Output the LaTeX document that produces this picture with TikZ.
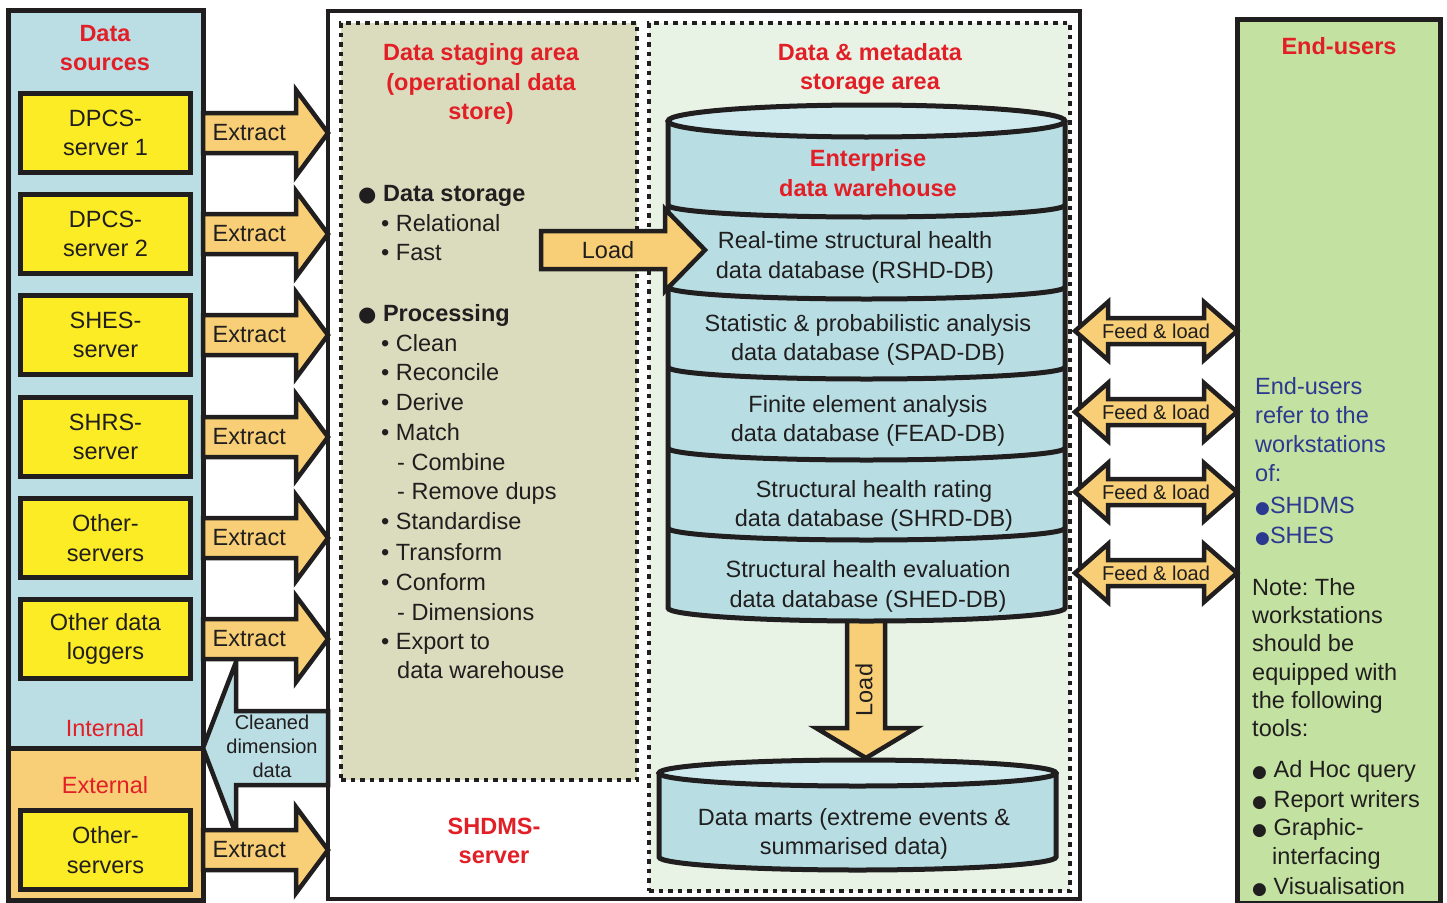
\documentclass[tikz,border=0pt]{standalone}
\usepackage{fontspec}
\setmainfont{Liberation Sans}
\newfontfamily\symfont{DejaVu Sans}
\usetikzlibrary{calc}
\frenchspacing

\definecolor{srcblue}{RGB}{186,222,228}
\definecolor{boxyellow}{RGB}{252,236,38}
\definecolor{arroworange}{RGB}{248,207,118}
\definecolor{stagegrey}{RGB}{219,220,190}
\definecolor{metagreen}{RGB}{233,243,229}
\definecolor{usergreen}{RGB}{195,225,160}
\definecolor{headred}{RGB}{226,30,38}
\definecolor{noteblue}{RGB}{43,57,144}
\definecolor{cylblue}{RGB}{184,222,228}
\definecolor{cyltop}{RGB}{206,234,239}
\definecolor{inkblack}{RGB}{32,30,30}

\newcommand{\mainsize}{\fontsize{23.5}{29.5}\selectfont}
\newcommand{\bigdot}{{\symfont\fontsize{21}{21}\selectfont ●}}
\newcommand{\meddot}{{\symfont\fontsize{17}{17}\selectfont ●}}

\newcommand{\fatarrow}[6][]{%
  \coordinate (ah) at ($(#3)!#6!(#2)$);
  \draw[blockarrow,#1] ($(#2)!#4!90:(#3)$) -- ($(ah)!#4!-90:(#2)$) -- ($(ah)!#5!-90:(#2)$) -- (#3)
    -- ($(ah)!#5!90:(#2)$) -- ($(ah)!#4!90:(#2)$) -- ($(#2)!#4!-90:(#3)$) -- cycle;}
\newcommand{\fatdouble}[6][]{%
  \coordinate (ha) at ($(#2)!#6!(#3)$);
  \coordinate (hb) at ($(#3)!#6!(#2)$);
  \draw[blockarrow,#1] (#2) -- ($(ha)!#5!90:(#3)$) -- ($(ha)!#4!90:(#3)$) -- ($(hb)!#4!-90:(#2)$)
    -- ($(hb)!#5!-90:(#2)$) -- (#3) -- ($(hb)!#5!90:(#2)$) -- ($(hb)!#4!90:(#2)$)
    -- ($(ha)!#4!-90:(#3)$) -- ($(ha)!#5!-90:(#3)$) -- cycle;}

\tikzset{
  panel/.style={draw=inkblack, line width=5pt, outer sep=0pt, inner sep=0pt, anchor=north west},
  dotbox/.style={draw=inkblack, line width=4.5pt, dash pattern=on 4.5pt off 5pt, outer sep=0pt, inner sep=0pt, anchor=north west},
  srcbox/.style={draw=inkblack, line width=5pt, fill=boxyellow, minimum width=170pt, minimum height=79pt, align=center, text=inkblack, font=\mainsize},
  heading/.style={text=headred, font=\bfseries\mainsize, align=center},
  subhead/.style={text=headred, font=\mainsize},
  lbl/.style={text=inkblack, font=\mainsize, inner sep=0pt},
  dbtext/.style={text=inkblack, font=\mainsize, align=center},
  item/.style={text=inkblack, font=\mainsize, anchor=base west, inner sep=0pt, yshift=-8.5pt},
  blockarrow/.style={draw=inkblack, line width=4.5pt, fill=arroworange, line join=miter},
  dbline/.style={draw=inkblack, line width=5pt},
  feedlbl/.style={text=inkblack, font=\fontsize{20}{24}\selectfont, inner sep=0pt},
  smalllbl/.style={text=inkblack, font=\fontsize{20}{24}\selectfont, align=center, inner sep=0pt}
}

\begin{document}
\begin{tikzpicture}[x=1pt,y=-1pt]
\useasboundingbox (0,0) rectangle (1447,902);

\node[panel, fill=srcblue, minimum width=195pt, minimum height=738pt] (internal) at (8,10) {};
\node[panel, fill=arroworange, minimum width=195pt, minimum height=152pt] (external) at (8,748) {};
\node[panel, fill=white, line width=4pt, minimum width=752pt, minimum height=888pt] (shdms) at (328,11) {};
\node[dotbox, fill=stagegrey, minimum width=296pt, minimum height=757pt] (staging) at (341,23) {};
\node[dotbox, fill=metagreen, minimum width=421pt, minimum height=868pt] (meta) at (649,23) {};
\node[panel, fill=usergreen, minimum width=203pt, minimum height=884pt] (users) at (1237,19) {};

\node[heading] (srctitle) at (105,48) {Data\\sources};
\node[subhead] (intlabel) at (105,728) {Internal};
\node[subhead] (extlabel) at (105,785) {External};
\node[heading] (stagetitle) at (481,84) {Data staging area\\(operational data\\store)};
\node[heading] (servertitle) at (494,841) {SHDMS-\\server};
\node[heading] (metatitle) at (870,69) {Data \& metadata\\storage area};
\node[heading] (usertitle) at (1339,46) {End-users};

\foreach \name/\y/\txt in {s1/133/{DPCS-\\server 1}, s2/234/{DPCS-\\server 2}, s3/335/{SHES-\\server},
    s4/437/{SHRS-\\server}, s5/538/{Other-\\servers}, s6/639/{Other data\\loggers}, s7/850/{Other-\\servers}}
{
    \node[srcbox] (\name) at (105.5,\y) {\txt};
}

\foreach \x/\y/\t [count=\i] in {358/193/{\bigdot\ \textbf{Data storage}}, 381/223/{\textbullet\ Relational},
    381/252/{\textbullet\ Fast}, 358/313/{\bigdot\ \textbf{Processing}}, 381/343/{\textbullet\ Clean},
    381/372/{\textbullet\ Reconcile}, 381/402/{\textbullet\ Derive}, 381/432/{\textbullet\ Match},
    397/462/{- Combine}, 397/491/{- Remove dups}, 381/521/{\textbullet\ Standardise},
    381/552/{\textbullet\ Transform}, 381/582/{\textbullet\ Conform}, 397/612/{- Dimensions},
    381/641/{\textbullet\ Export to}, 397/670/{data warehouse}}
{
    \node[item] (st\i) at (\x,\y) {\t};
}

\coordinate (whbottom) at (866,600);
\coordinate (marttop) at (866,758);
\fatarrow{whbottom}{marttop}{19pt}{50pt}{30pt}
\node[lbl, rotate=90] (downlabel) at (864,690) {Load};

\fill[cylblue] (668,121) -- (668,608) arc[start angle=180, end angle=360, x radius=198.5pt, y radius=13pt] -- (1065,121) -- cycle;
\draw[dbline] (668,121) -- (668,608) arc[start angle=180, end angle=360, x radius=198.5pt, y radius=13pt] -- (1065,121);
\foreach \y in {205,287,367,448,528}
{
    \draw[dbline] (668,\y) arc[start angle=180, end angle=360, x radius=198.5pt, y radius=12pt];
}
\draw[dbline, fill=cyltop] (866.5,121) ellipse [x radius=198.5pt, y radius=16pt];

\node[heading] (ewtitle) at (868,173) {Enterprise\\data warehouse};
\node[dbtext] (rshd) at (855,257.5) {Real-time structural health\\data database (RSHD-DB)};
\node[dbtext] (spad) at (868,340) {Statistic \& probabilistic analysis\\data database (SPAD-DB)};
\node[dbtext] (fead) at (868,421) {Finite element analysis\\data database (FEAD-DB)};
\node[dbtext] (shrd) at (874,506) {Structural health rating\\data database (SHRD-DB)};
\node[dbtext] (shed) at (868,586.5) {Structural health evaluation\\data database (SHED-DB)};

\fill[cylblue] (659,773) -- (659,857) arc[start angle=180, end angle=360, x radius=198.5pt, y radius=13pt] -- (1056,773) -- cycle;
\draw[dbline] (659,773) -- (659,857) arc[start angle=180, end angle=360, x radius=198.5pt, y radius=13pt] -- (1056,773);
\draw[dbline, fill=cyltop] (857.5,773) ellipse [x radius=198.5pt, y radius=13pt];
\node[dbtext] (marts) at (854,834) {Data marts (extreme events \&\\summarised data)};

\coordinate (ldstart) at (541,250);
\coordinate (ldtip) at (705,250);
\fatarrow{ldstart}{ldtip}{19pt}{41pt}{40pt}
\node[lbl] (ldlabel) at (608,250) {Load};

\coordinate (cdstart) at (internal.south east -| shdms.west);
\fatarrow[fill=srcblue]{cdstart}{internal.south east}{37pt}{86pt}{33pt}
\node[smalllbl] (cdlabel) at (272,746) {Cleaned\\dimension\\data};

\foreach \s in {s1,s2,s3,s4,s5,s6,s7}
{
    \coordinate (\s out) at (\s.east -| internal.east);
    \coordinate (\s in) at (\s.east -| shdms.west);
    \fatarrow{\s out}{\s in}{20pt}{43pt}{32pt}
    \node[lbl] (\s x) at ($(\s out)!0.37!(\s in)$) {Extract};
}

\foreach \y [count=\i] in {331,412,492,573}
{
    \coordinate (fl\i) at (1075,\y);
    \coordinate (fr\i) at (users.west |- fl\i);
    \fatdouble{fl\i}{fr\i}{13pt}{29pt}{33pt}
    \node[feedlbl] (fd\i) at ($(fl\i)!0.5!(fr\i)$) {Feed \& load};
}

\foreach \y/\t [count=\i] in {386/End-users, 415/refer to the, 444/workstations, 473/of:,
    505/{\meddot SHDMS}, 535/{\meddot SHES}}
{
    \node[item, text=noteblue] (eu\i) at (1255,\y) {\t};
}
\foreach \x/\y/\t [count=\i] in {1252/587/{Note: The}, 1252/615/workstations, 1252/643/{should be},
    1252/672/{equipped with}, 1252/700/{the following}, 1252/728/{tools:},
    1252/769/{\meddot\ Ad Hoc query}, 1252/799/{\meddot\ Report writers}, 1252/827/{\meddot\ Graphic-},
    1272/856/interfacing, 1252/886/{\meddot\ Visualisation}}
{
    \node[item] (nt\i) at (\x,\y) {\t};
}
\end{tikzpicture}
\end{document}
